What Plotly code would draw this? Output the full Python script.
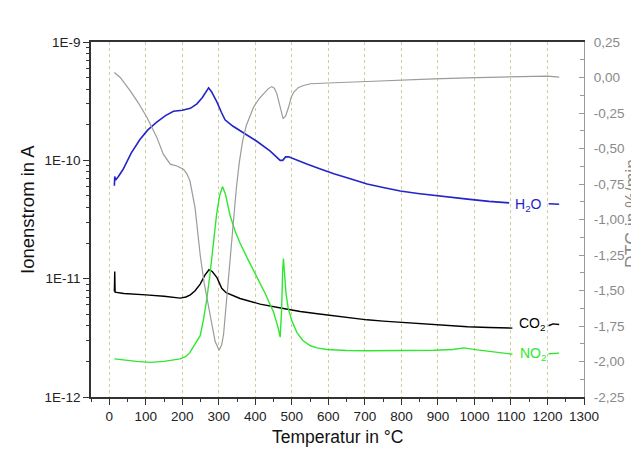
import plotly.graph_objects as go

# ---------------- data ----------------
h2o_T = [14, 15, 17, 25, 38, 60, 84, 105, 130, 155, 176, 200, 222, 240, 255, 265, 272, 280, 295, 307, 317,
         338, 370, 404, 440, 468, 475, 483, 491, 510, 541, 580, 615, 660, 706, 750, 797, 845, 889, 935,
         981, 1040, 1095, None, 1203, 1232]
h2o_v = [6.1e-11, 7.3e-11, 6.8e-11, 7.3e-11, 8.4e-11, 1.15e-10, 1.5e-10, 1.8e-10, 2.1e-10, 2.4e-10, 2.6e-10,
         2.65e-10, 2.75e-10, 3.0e-10, 3.4e-10, 3.8e-10, 4.1e-10, 3.8e-10, 3.1e-10, 2.55e-10, 2.2e-10,
         1.95e-10, 1.7e-10, 1.45e-10, 1.2e-10, 1.0e-10, 1.0e-10, 1.07e-10, 1.07e-10, 1.01e-10, 9.3e-11,
         8.4e-11, 7.7e-11, 7.0e-11, 6.3e-11, 5.9e-11, 5.5e-11, 5.25e-11, 5.05e-11, 4.85e-11, 4.7e-11,
         4.5e-11, 4.37e-11, None, 4.3e-11, 4.25e-11]

co2_T = [14, 15, 16, 40, 66, 100, 150, 194, 210, 222, 235, 249, 262, 273, 282, 295, 308, 320, 358, 413,
         477, 523, 570, 615, 660, 706, 750, 797, 845, 889, 935, 981, 1040, 1104, None, 1203, 1215, 1232]
co2_v = [7.8e-12, 1.15e-11, 7.7e-12, 7.5e-12, 7.45e-12, 7.3e-12, 7.1e-12, 6.85e-12, 7.0e-12, 7.3e-12,
         7.9e-12, 9.0e-12, 1.07e-11, 1.19e-11, 1.15e-11, 1.02e-11, 8.3e-12, 7.6e-12, 6.8e-12, 6.1e-12,
         5.6e-12, 5.28e-12, 5.05e-12, 4.85e-12, 4.65e-12, 4.49e-12, 4.38e-12, 4.27e-12, 4.17e-12, 4.07e-12,
         4.0e-12, 3.92e-12, 3.87e-12, 3.82e-12, None, 4.0e-12, 4.15e-12, 4.1e-12]

no2_T = [14, 40, 75, 112, 150, 194, 210, 221, 235, 249, 258, 267, 276, 285, 294, 302, 310, 318, 331, 345,
         358, 380, 404, 427, 450, 462, 468, 472, 475, 477, 480, 484, 490, 500, 514, 530, 551, 569, 596,
         650, 706, 797, 889, 940, 971, 1008, 1050, 1104, None, 1203, 1232]
no2_v = [2.1e-12, 2.05e-12, 2.0e-12, 1.96e-12, 2.0e-12, 2.1e-12, 2.2e-12, 2.38e-12, 2.8e-12, 3.3e-12,
         4.5e-12, 6.7e-12, 1.1e-11, 1.9e-11, 3.5e-11, 5.0e-11, 6.0e-11, 5.2e-11, 3.4e-11, 2.5e-11,
         2.0e-11, 1.45e-11, 1.05e-11, 7.5e-12, 5.2e-12, 3.9e-12, 3.2e-12, 5.5e-12, 1.2e-11, 1.48e-11,
         1.1e-11, 7.5e-12, 5.6e-12, 4.4e-12, 3.5e-12, 3.0e-12, 2.71e-12, 2.6e-12, 2.52e-12, 2.47e-12,
         2.46e-12, 2.46e-12, 2.48e-12, 2.52e-12, 2.6e-12, 2.5e-12, 2.42e-12, 2.3e-12, None, 2.32e-12, 2.35e-12]

dtg_T = [14, 30, 57, 80, 103, 130, 148, 167, 185, 203, 213, 221, 235, 244, 249, 260, 272, 282, 290, 301,
         308, 313, 320, 327, 334, 340, 348, 356, 365, 375, 385, 395, 410, 423, 435, 445, 452, 459, 467,
         476, 483, 491, 498, 505, 518, 532, 551, 587, 615, 706, 797, 889, 981, 1099, 1200, 1232]
dtg_v = [0.035, 0.0, -0.092, -0.18, -0.28, -0.42, -0.54, -0.61, -0.623, -0.646, -0.68, -0.729, -0.918,
         -1.153, -1.25, -1.45, -1.625, -1.77, -1.86, -1.92, -1.88, -1.81, -1.6, -1.37, -1.18, -1.0, -0.78,
         -0.6, -0.45, -0.34, -0.27, -0.21, -0.15, -0.115, -0.08, -0.064, -0.075, -0.115, -0.2, -0.29,
         -0.27, -0.21, -0.14, -0.104, -0.07, -0.056, -0.044, -0.038, -0.037, -0.028, -0.016, -0.009,
         -0.002, 0.002, 0.01, 0.002]

left_tickvals = [1e-12, 1e-11, 1e-10, 1e-9]
left_ticktext = ["1E-12", "1E-11", "1E-10", "1E-9"]
right_tickvals = [0.25, 0.0, -0.25, -0.5, -0.75, -1.0, -1.25, -1.5, -1.75, -2.0, -2.25]
right_ticktext = ["0,25", "0,00", "-0,25", "-0,50", "-0,75", "-1,00", "-1,25", "-1,50", "-1,75", "-2,00", "-2,25"]

FONT = "Arial, 'Liberation Sans', sans-serif"

fig = go.Figure()
fig.add_trace(go.Scatter(x=h2o_T, y=h2o_v, mode="lines", line=dict(color="#2424c8", width=1.6),
                         connectgaps=False, name="H2O"))
fig.add_trace(go.Scatter(x=co2_T, y=co2_v, mode="lines", line=dict(color="#000000", width=1.4),
                         connectgaps=False, name="CO2"))
fig.add_trace(go.Scatter(x=no2_T, y=no2_v, mode="lines", line=dict(color="#2ee82e", width=1.4),
                         connectgaps=False, name="NO2"))
fig.add_trace(go.Scatter(x=dtg_T, y=dtg_v, mode="lines", line=dict(color="#9b9b9b", width=1.2),
                         yaxis="y2", name="DTG"))

# page is offset by the 8px body margin; target plot box in page px: 91..584 x 42..397
OFF = 8
W, H = 639 - OFF, 459 - OFF
L, T = 91 - OFF, 42 - OFF
R, B = W - (584 - OFF), H - (397 - OFF)
pw, ph = W - L - R, H - T - B


def px(xpage):
    return (xpage - OFF - L) / pw


def py(ypage):
    return (H - B - (ypage - OFF)) / ph


minor_left = [m * 10.0 ** e for e in range(-12, -9) for m in range(2, 10)]
minor_right = [v - 0.125 for v in right_tickvals[:-1]]

fig.update_layout(
    width=W, height=H,
    margin=dict(l=L, r=R, t=T, b=B, pad=0),
    paper_bgcolor="white", plot_bgcolor="white",
    showlegend=False,
    font=dict(family=FONT, size=13, color="#222"),
    xaxis=dict(range=[-50, 1300], tick0=0, dtick=100, showline=True, linecolor="#333", linewidth=1.5,
               mirror=True, ticks="outside", ticklen=6, tickcolor="#333", tickwidth=1,
               tickfont=dict(size=13.5, color="#222"),
               showgrid=True, gridcolor="#d2cf96", griddash="dot", gridwidth=1, zeroline=False,
               minor=dict(dtick=50, tick0=0, ticks="outside", ticklen=3, tickcolor="#333", showgrid=False)),
    yaxis=dict(type="log", range=[-12, -9], tickmode="array", tickvals=left_tickvals, ticktext=left_ticktext,
               showline=True, linecolor="#333", linewidth=1.5, ticks="outside", ticklen=6, tickcolor="#333",
               tickfont=dict(size=13.5, color="#222"), showgrid=False, zeroline=False,
               minor=dict(tickmode="array", tickvals=minor_left, ticks="outside", ticklen=3,
                          tickcolor="#333", showgrid=False)),
    yaxis2=dict(overlaying="y", side="right", range=[-2.25, 0.25], tickmode="array",
                tickvals=right_tickvals, ticktext=right_ticktext, showline=True, linecolor="#9a9a9a",
                linewidth=1, ticks="inside", ticklen=5, tickcolor="#9a9a9a", ticklabelstandoff=6,
                tickfont=dict(size=13.5, color="#8a8a8a"), showgrid=False, zeroline=False,
                minor=dict(tickmode="array", tickvals=minor_right, ticks="inside", ticklen=4,
                           tickcolor="#9a9a9a", showgrid=False)),
    annotations=[
        dict(text="Ionenstrom in A", xref="paper", yref="paper", x=px(27), y=py(210), textangle=-90,
             showarrow=False, xanchor="center", yanchor="middle", font=dict(size=18.5, color="#111")),
        dict(text="Temperatur in °C", xref="paper", yref="paper", x=px(338), y=py(437),
             showarrow=False, xanchor="center", yanchor="middle", font=dict(size=17.5, color="#111")),
        dict(text="DTG in %/min", xref="paper", yref="paper", x=px(632), y=py(214), textangle=-90,
             showarrow=False, xanchor="center", yanchor="middle", font=dict(size=17.5, color="#8a8a8a")),
        dict(text="H<sub>2</sub>O", xref="x", yref="y", x=1149, y=-10.375, showarrow=False,
             xanchor="center", yanchor="middle", font=dict(size=14, color="#2424c8")),
        dict(text="CO<sub>2</sub>", xref="x", yref="y", x=1158, y=-11.384, showarrow=False,
             xanchor="center", yanchor="middle", font=dict(size=14, color="#000000")),
        dict(text="NO<sub>2</sub>", xref="x", yref="y", x=1160, y=-11.638, showarrow=False,
             xanchor="center", yanchor="middle", font=dict(size=14, color="#2ee82e")),
    ],
)

fig.write_html("out.html")
